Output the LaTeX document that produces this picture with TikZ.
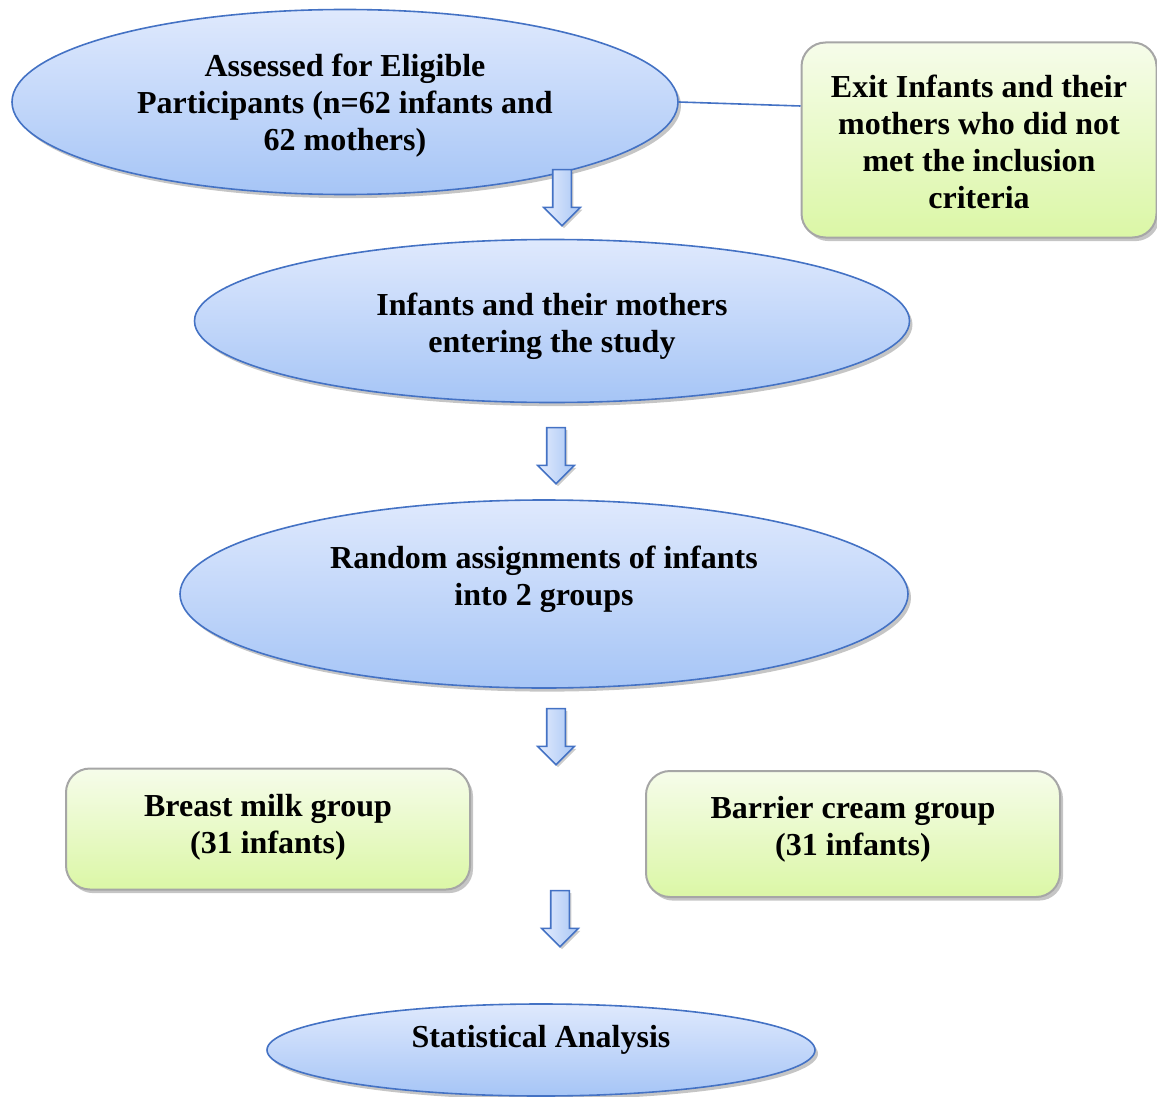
\documentclass[tikz,border=0pt]{standalone}
\usepackage{fontspec}
\setmainfont{Liberation Serif}
\usetikzlibrary{shapes.geometric,shapes.arrows,shadows}
\definecolor{ellTop}{HTML}{DFE9FD}
\definecolor{ellBot}{HTML}{A6C5F6}
\definecolor{ellLine}{HTML}{4472C4}
\definecolor{boxTop}{HTML}{F6FCEA}
\definecolor{boxBot}{HTML}{DBF7A6}
\definecolor{boxLine}{HTML}{A6A6A6}
\definecolor{arrTop}{HTML}{E3ECFD}
\definecolor{arrBot}{HTML}{A9C6F5}

\begin{document}
\begin{tikzpicture}[x=0.5pt, y=-0.5pt,
		ell/.style={ellipse, draw=ellLine, line width=0.8pt, top color=ellTop, bottom color=ellBot, inner sep=0pt, drop shadow={shadow xshift=1.5pt, shadow yshift=-1.8pt, fill=black!45}},
		grnbox/.style={rectangle, rounded corners=12pt, draw=boxLine, line width=1pt, top color=boxTop, bottom color=boxBot, inner sep=0pt, drop shadow={shadow xshift=1.5pt, shadow yshift=-1.8pt, fill=black!45}},
		blkarrow/.style={single arrow, rotate=-90, draw=ellLine, line width=0.8pt, left color=arrTop, right color=arrBot, inner sep=4.25pt, single arrow head extend=4.5pt, minimum height=28pt, drop shadow={shadow xshift=1pt, shadow yshift=-1.2pt, fill=black!40}},
		lbl/.style={align=center, font=\fontsize{16}{18.5}\selectfont\bfseries},
		conn/.style={draw=ellLine, line width=0.8pt}]
			\useasboundingbox (0,0) rectangle (1157,1097);
			
			% Ellipses
			\node[ell, minimum width=333pt, minimum height=92.5pt, label={[lbl, yshift=-2pt]center:Assessed for Eligible\\Participants (n=62 infants and\\62 mothers)}] (elig) at (345,102) {};
			\node[ell, minimum width=357.5pt, minimum height=81.5pt, label={[lbl, yshift=-2.5pt]center:Infants and their mothers\\entering the study}] (enter) at (552,321) {};
			\node[ell, minimum width=364pt, minimum height=94pt, label={[lbl, yshift=7.5pt]center:Random assignments of infants\\into 2 groups}] (rand) at (544,594) {};
			\node[ell, minimum width=274pt, minimum height=46pt, label={[lbl, yshift=5pt]center:Statistical Analysis}] (stat) at (541,1050) {};
			
			% Boxes
			\node[grnbox, minimum width=177.5pt, minimum height=97.5pt, label={[lbl, yshift=-1pt]center:Exit Infants and their\\mothers who did not\\met the inclusion\\criteria}] (exit) at (979,140) {};
			\node[grnbox, minimum width=202pt, minimum height=60.5pt, label={[lbl, yshift=1pt]center:Breast milk group\\(31 infants)}] (milk) at (268,829) {};
			\node[grnbox, minimum width=207pt, minimum height=63pt, label={[lbl, yshift=2.5pt]center:Barrier cream group\\(31 infants)}] (cream) at (853,834) {};
			
			% Arrows
			\node[blkarrow] (arr-1) at (562,193) {};
			\node[blkarrow] (arr-2) at (556,451) {};
			\node[blkarrow] (arr-3) at (556,732) {};
			\node[blkarrow] (arr-4) at (560,914) {};
			
			% Connections
			\draw[conn] (elig.east) -- ([yshift=17pt]exit.west);
		\end{tikzpicture}
\end{document}
